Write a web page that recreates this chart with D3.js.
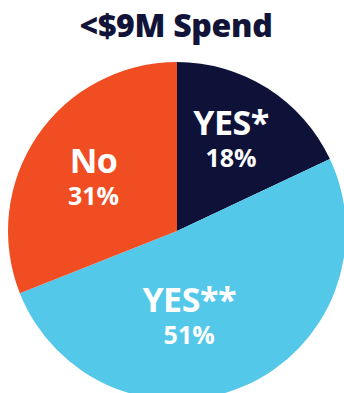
<!DOCTYPE html>
<html>
<head>
<meta charset="utf-8">
<script src="https://cdn.jsdelivr.net/npm/d3@7/dist/d3.min.js"></script>
<style>
  html, body { margin: 0; padding: 0; background: #ffffff; }
  svg { display: block; }
  text { font-family: "Open Sans", "DejaVu Sans", sans-serif; }
</style>
</head>
<body>
<svg id="chart" width="344" height="393"></svg>
<script>
// Survey answers for the under-$9M spend group
const categories = ["YES*", "YES**", "No"];
const shares = [18, 51, 31];
const colors = ["#0f1238", "#54c8e9", "#f04d23"];
const title = "<$9M Spend";

const width = 344, height = 393;
const cx = 177, cy = 231, radius = 169;

// Where each label block sits: polar position around the pie centre
// (angle in degrees clockwise from 12 o'clock, distance in px)
const labelPolar = [[26.5, 121], [170, 70], [310, 109]];

const svg = d3.select("#chart");

svg.append("text")
  .attr("x", width / 2 + 4)
  .attr("y", 37)
  .attr("text-anchor", "middle")
  .attr("fill", "#111438")
  .attr("font-size", 32)
  .attr("font-weight", 800)
  .attr("letter-spacing", -0.3)
  .text(title);

const data = categories.map((c, i) => ({ category: c, value: shares[i], color: colors[i] }));

const pie = d3.pie().value(d => d.value).sort(null);
const arc = d3.arc().innerRadius(0).outerRadius(radius);

const g = svg.append("g").attr("transform", `translate(${cx},${cy})`);

g.selectAll("path")
  .data(pie(data))
  .join("path")
  .attr("d", arc)
  .attr("fill", d => d.data.color);

// Each label is one text block: category name over its percentage
const labels = g.selectAll("text.label")
  .data(pie(data))
  .join("text")
  .attr("class", "label")
  .attr("text-anchor", "middle")
  .attr("fill", "#ffffff")
  .attr("font-weight", 700)
  .attr("transform", (d, i) => {
    const a = labelPolar[i][0] * Math.PI / 180;
    const r = labelPolar[i][1];
    return `translate(${r * Math.sin(a)},${-r * Math.cos(a)})`;
  });

labels.append("tspan")
  .attr("x", 0)
  .attr("y", 12)
  .attr("font-size", 34)
  .attr("letter-spacing", -0.5)
  .text(d => d.data.category);

labels.append("tspan")
  .attr("x", 0)
  .attr("y", 44)
  .attr("font-size", 25)
  .text(d => d.data.value + "%");
</script>
</body>
</html>
